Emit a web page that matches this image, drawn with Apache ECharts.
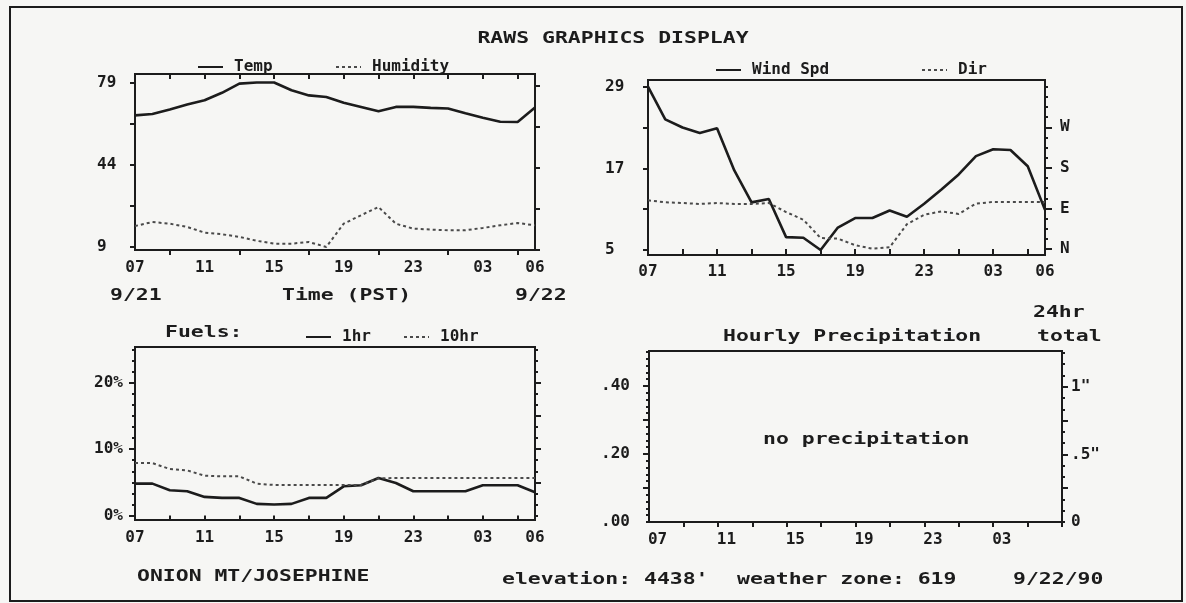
<!DOCTYPE html>
<html>
<head>
<meta charset="utf-8">
<title>RAWS Graphics Display</title>
<script src="https://cdn.jsdelivr.net/npm/echarts@6/dist/echarts.min.js"></script>
<style>
  html, body { margin: 0; padding: 0; background: #f6f6f4; }
  #chart { width: 1186px; height: 603px; }
</style>
</head>
<body>
<div id="chart"></div>
<script>
// hourly categories, 07 on 9/21 to 06 on 9/22
const hours = ['07', '08', '09', '10', '11', '12', '13', '14', '15', '16', '17', '18',
  '19', '20', '21', '22', '23', '00', '01', '02', '03', '04', '05', '06'];

const temp = [65.0, 65.6, 67.5, 69.6, 71.4, 74.6, 78.5, 79, 79, 75.7, 73.5, 72.8,
  70.4, 68.6, 66.7, 68.6, 68.6, 68.2, 67.9, 65.9, 64.0, 62.3, 62.2, 68.3];
const humidity = [17.9, 19.6, 18.9, 17.5, 15.1, 14.4, 13.3, 11.6, 10.4, 10.4, 11.1, 9,
  18.9, 22.5, 26.0, 18.9, 16.8, 16.4, 16.1, 16.1, 17.1, 18.2, 19.2, 18.2];

const windSpd = [29, 24.2, 23.0, 22.2, 22.9, 16.7, 12.0, 12.5, 6.9, 6.8, 5, 8.3,
  9.7, 9.7, 10.8, 9.9, 11.8, 13.9, 16.1, 18.8, 19.8, 19.7, 17.3, 10.9];
// wind direction in degrees (N = 0, E = 90, S = 180, W = 270)
const windDir = [108, 103.6, 102, 100, 102, 100, 100, 102, 82, 65, 24.4, 23,
  8.5, 0.7, 3.7, 55, 76, 83.6, 77.7, 101, 104.3, 104.3, 104.3, 104.3];

const fuel1hr = [4.8, 4.8, 3.8, 3.65, 2.8, 2.65, 2.65, 1.75, 1.65, 1.75, 2.65, 2.65,
  4.4, 4.55, 5.65, 4.9, 3.65, 3.65, 3.65, 3.65, 4.55, 4.55, 4.55, 3.5];
const fuel10hr = [7.9, 7.9, 7.0, 6.8, 6.0, 5.9, 5.9, 4.8, 4.6, 4.6, 4.6, 4.6,
  4.6, 4.6, 5.6, 5.65, 5.65, 5.65, 5.65, 5.65, 5.65, 5.65, 5.65, 5.65];

const precip = [0, 0, 0, 0, 0, 0, 0, 0, 0, 0, 0, 0,
  0, 0, 0, 0, 0, 0, 0, 0, 0, 0, 0, 0];

// tick labels
const tempTicks = [9, 44, 79];
const windTicks = [5, 17, 29];
const dirTicks = [0, 90, 180, 270];
const dirNames = ['N', 'E', 'S', 'W'];
const fuelTicks = [0, 10, 20];
const precipTicks = [0, 0.2, 0.4];
const totalTicks = [0, 0.5, 1];

const ink = '#1c1c1c';
const grey = '#4a4a4a';
const mono = '"DejaVu Sans Mono", "Liberation Mono", monospace';
const axisFont = { fontFamily: mono, fontWeight: 'bold', fontSize: 16, color: ink };

const steps = (from, to, step) => {
  const out = [];
  for (let v = from; v <= to + 1e-9; v += step) out.push(+v.toFixed(4));
  return out;
};

const grids = [
  { left: 135, top: 74, width: 400, height: 176 },   // temp / humidity
  { left: 648, top: 80, width: 397, height: 175 },   // wind
  { left: 135, top: 347, width: 400, height: 173 },  // fuels
  { left: 649, top: 351, width: 413, height: 171 }   // precipitation
].map(g => ({ ...g, show: true, borderColor: ink, borderWidth: 2, backgroundColor: 'transparent' }));

const xAxisOf = (gridIndex, position, boundaryGap, tickFn, labelFn, inside, margin) => ({
  type: 'category',
  gridIndex,
  position,
  data: hours,
  boundaryGap,
  axisLine: { show: false },
  splitLine: { show: false },
  axisTick: { show: true, inside, length: 5, interval: tickFn, lineStyle: { color: ink, width: 2 } },
  axisLabel: labelFn ? { show: true, interval: labelFn, margin, ...axisFont } : { show: false }
});

const yAxisOf = (gridIndex, position, min, max, tickValues, tickLen, label) => ({
  type: 'value',
  gridIndex,
  position,
  min,
  max,
  axisLine: { show: false },
  splitLine: { show: false },
  axisTick: { show: true, customValues: tickValues, length: tickLen, lineStyle: { color: ink, width: 2 } },
  axisLabel: label ? { show: true, ...axisFont, ...label } : { show: false }
});

const lineBottomLabels = i => i % 4 === 0 || i === hours.length - 1;
const lineBottomTicks = i => i % 4 === 2;
const lineTopTicks = i => i % 2 === 0 && i > 0 && i < hours.length - 1;
const barTicks = i => i % 2 === 0 && i > 0;

const xAxis = [
  xAxisOf(0, 'bottom', false, lineBottomTicks, lineBottomLabels, false, 10),
  xAxisOf(0, 'top', false, lineTopTicks, null, true),
  xAxisOf(1, 'bottom', false, lineBottomTicks, lineBottomLabels, false, 9),
  xAxisOf(1, 'top', false, lineTopTicks, null, true),
  xAxisOf(2, 'bottom', false, lineBottomTicks, lineBottomLabels, false, 10),
  xAxisOf(2, 'top', false, lineTopTicks, null, true),
  xAxisOf(3, 'bottom', true, barTicks, 3, false, 10),
  xAxisOf(3, 'top', true, barTicks, null, true)
];

const yAxis = [
  // 0-1 temperature / humidity
  yAxisOf(0, 'left', 7.7, 82.6, [9, 26.5, 44, 61.5, 79], 5,
    { customValues: tempTicks, align: 'left', margin: 38 }),
  yAxisOf(0, 'right', 7.7, 82.6, [7.7, 25.2, 42.7, 60.2, 77.7], 5),
  // 2-4 wind speed and direction
  yAxisOf(1, 'left', 4.27, 29.98, [5, 11, 17, 23, 29], 5,
    { customValues: windTicks, align: 'left', margin: 43 }),
  yAxisOf(1, 'right', -13.3, 375, dirTicks, 7,
    { customValues: dirTicks, align: 'left', margin: 15,
      formatter: v => dirNames[dirTicks.indexOf(v)] || '' }),
  yAxisOf(1, 'right', -13.3, 375, steps(0, 360, 22.5), 3),
  // 5-8 fuels
  yAxisOf(2, 'left', -0.68, 25.4, fuelTicks, 6,
    { customValues: fuelTicks, align: 'right', margin: 12, formatter: v => v + '%' }),
  yAxisOf(2, 'left', -0.68, 25.4, steps(0, 25, 10 / 6), 3),
  yAxisOf(2, 'right', -0.68, 25.4, [5, 10, 15, 20], 6),
  yAxisOf(2, 'right', -0.68, 25.4, steps(0, 25, 10 / 6), 3),
  // 9-12 precipitation
  yAxisOf(3, 'left', 0, 0.503, [0.1, 0.2, 0.3, 0.4], 6,
    { customValues: precipTicks, align: 'right', margin: 19,
      formatter: v => '.' + String(Math.round(v * 100)).padStart(2, '0') }),
  yAxisOf(3, 'left', 0, 0.503, steps(0, 0.5, 0.02), 3),
  yAxisOf(3, 'right', 0, 1.264, [0.25, 0.5, 0.75, 1], 6,
    { customValues: totalTicks, align: 'left', margin: 9,
      formatter: v => (v === 0 ? '0' : v === 1 ? '1"' : '.5"') }),
  yAxisOf(3, 'right', 0, 1.264, steps(0, 1.25, 1 / 12), 3)
];

const solid = { color: ink, width: 2.6 };
const dotted = { color: grey, width: 2, type: [3, 3] };

const lineSeries = (name, data, xAxisIndex, yAxisIndex, lineStyle) => ({
  name,
  type: 'line',
  data,
  xAxisIndex,
  yAxisIndex,
  symbol: 'none',
  showSymbol: false,
  lineStyle,
  itemStyle: { color: lineStyle.color },
  clip: false
});

const series = [
  lineSeries('Temp', temp, 0, 0, solid),
  lineSeries('Humidity', humidity, 0, 0, dotted),
  lineSeries('Wind Spd', windSpd, 2, 2, solid),
  lineSeries('Dir', windDir, 2, 3, dotted),
  lineSeries('1hr', fuel1hr, 4, 5, solid),
  lineSeries('10hr', fuel10hr, 4, 5, dotted),
  {
    name: 'Precipitation',
    type: 'bar',
    data: precip,
    xAxisIndex: 6,
    yAxisIndex: 9,
    barWidth: '60%',
    itemStyle: { color: ink }
  }
];

// legend shows the line sample only, no marker in the middle
const legendOf = (name, left, midY) => ({
  data: [name],
  left,
  top: midY - 9,
  itemWidth: 25,
  itemHeight: 14,
  selectedMode: false,
  itemStyle: { color: 'rgba(0,0,0,0)', borderColor: 'rgba(0,0,0,0)', borderWidth: 0 },
  textStyle: { fontFamily: mono, fontWeight: 'bold', fontSize: 16, color: ink, padding: [0, 0, 0, 6] }
});

const legend = [
  legendOf('Temp', 192, 63),
  legendOf('Humidity', 330, 63),
  legendOf('Wind Spd', 710, 66),
  legendOf('Dir', 916, 66),
  legendOf('1hr', 300, 333),
  legendOf('10hr', 398, 333)
];

// free text, stretched horizontally like the wide printer font
const labelText = (text, x, y, align) => ({
  type: 'text',
  x,
  y,
  scaleX: 1.34,
  silent: true,
  style: {
    text,
    x: 0,
    y: 0,
    font: 'bold 16px ' + mono,
    fill: ink,
    align: align || 'left',
    textAlign: align || 'left',
    verticalAlign: 'middle',
    textVerticalAlign: 'middle'
  }
});

const graphic = [
  {
    type: 'rect',
    silent: true,
    shape: { x: 10, y: 7, width: 1172, height: 594 },
    style: { fill: 'none', stroke: ink, lineWidth: 2 }
  },
  labelText('RAWS GRAPHICS DISPLAY', 613, 39, 'center'),
  labelText('9/21', 110, 296),
  labelText('Time (PST)', 282, 296),
  labelText('9/22', 515, 296),
  labelText('Fuels:', 165, 333),
  labelText('Hourly Precipitation', 723, 337),
  labelText('24hr', 1033, 313),
  labelText('total', 1037, 337),
  labelText('no precipitation', 763, 440),
  labelText('ONION MT/JOSEPHINE', 137, 577),
  labelText("elevation: 4438'", 502, 580),
  labelText('weather zone: 619', 737, 580),
  labelText('9/22/90', 1013, 580)
];

const chart = echarts.init(document.getElementById('chart'), null, { renderer: 'canvas' });
chart.setOption({
  backgroundColor: '#f6f6f4',
  animation: false,
  grid: grids,
  xAxis,
  yAxis,
  legend,
  series,
  graphic
});
</script>
</body>
</html>
